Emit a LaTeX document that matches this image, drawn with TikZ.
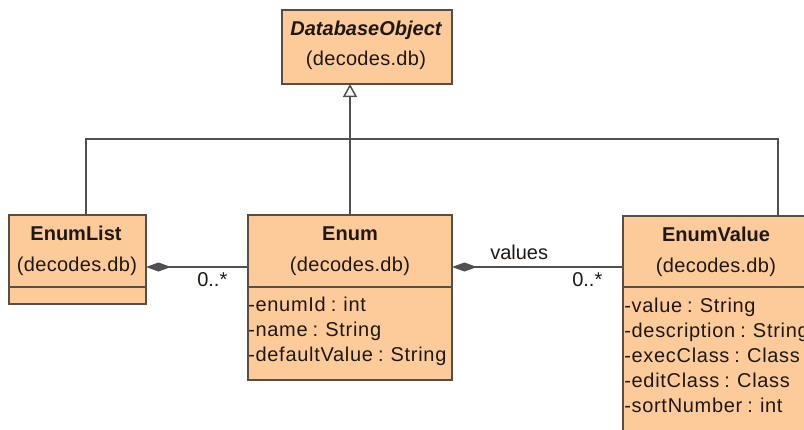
\documentclass[tikz,border=0pt]{standalone}
\usepackage{fontspec}
\setmainfont{Liberation Sans}
\newfontfamily\attrfont[LetterSpace=3.5,WordSpace=0.8]{Liberation Sans}
\newfontfamily\pkgfont[LetterSpace=1.5]{Liberation Sans}
\usetikzlibrary{arrows.meta}
\definecolor{classfill}{RGB}{253,203,153}
\definecolor{classedge}{RGB}{88,78,70}
\definecolor{wire}{RGB}{80,80,80}
\definecolor{ink}{RGB}{30,24,20}
\begin{document}
\begin{tikzpicture}[x=0.75pt,y=-0.75pt,
  classbox/.style={draw=classedge,fill=classfill,line width=1.1pt,
    inner sep=0pt,outer sep=0pt,anchor=north west},
  uml/.style={font=\fontsize{15}{18}\selectfont,text=ink,inner sep=0pt},
  title/.style={uml,anchor=base,font=\fontsize{15}{18}\selectfont\bfseries},
  pkg/.style={uml,anchor=base,font=\fontsize{15}{18}\pkgfont},
  attr/.style={uml,anchor=base west,font=\fontsize{15}{18}\attrfont},
  mult/.style={uml,anchor=base west},
  wireline/.style={draw=wire,line width=1.1pt},
  gen/.style={wireline,-{Triangle[open,length=9.75pt,width=10.5pt,fill=white]}},
  comp/.style={wireline,{Diamond[length=18.75pt,width=6.75pt,fill=wire]}-}]
\fill[white] (0,0) rectangle (804,429);
\clip (0,0) rectangle (804,429);

% class boxes
\node[classbox,minimum width=127.5pt,minimum height=55.5pt] (dbo) at (282,10) {};
\node[classbox,minimum width=102.75pt,minimum height=66.75pt] (elist) at (9,215) {};
\node[classbox,minimum width=153pt,minimum height=123.75pt] (enum) at (248,215) {};
\node[classbox,minimum width=150pt,minimum height=172.5pt] (ev) at (623,216) {};

% compartment separators
\draw[draw=classedge,line width=1.1pt] (elist.west |- 0,287) -- (elist.east |- 0,287);
\draw[draw=classedge,line width=1.1pt] (enum.west |- 0,287) -- (enum.east |- 0,287);
\draw[draw=classedge,line width=1.1pt] (ev.west |- 0,287) -- (ev.east |- 0,287);

% DatabaseObject
\node[uml,anchor=base,font=\fontsize{15}{18}\selectfont\bfseries\itshape] (dboT) at (366,35) {DatabaseObject};
\node[pkg] (dboP) at (366,65) {(decodes.db)};

% EnumList
\node[title] (elT) at (76,240) {EnumList};
\node[pkg] (elP) at (77,271) {(decodes.db)};

% Enum
\node[title] (enT) at (350,240) {Enum};
\node[pkg] (enP) at (350,271) {(decodes.db)};
\node[attr] (enA1) at (248,311) {-enumId : int};
\node[attr] (enA2) at (248,336) {-name : String};
\node[attr] (enA3) at (248,361) {-defaultValue : String};

% EnumValue
\node[title] (evT) at (716,241) {EnumValue};
\node[pkg] (evP) at (716,272) {(decodes.db)};
\node[attr] (evA1) at (624,312) {-value : String};
\node[attr] (evA2) at (624,337) {-description : String};
\node[attr] (evA3) at (624,362) {-execClass : Class};
\node[attr] (evA4) at (624,387) {-editClass : Class};
\node[attr] (evA5) at (624,412) {-sortNumber : int};

% generalization to DatabaseObject
\coordinate (busL) at (86,139);
\coordinate (busR) at (778,139);
\draw[wireline] (elist.north -| busL) -- (busL) -- (busR) -- (ev.north -| busR);
\draw[gen] (enum.north) -- (enum.north |- dbo.south);

% compositions
\coordinate (row) at (0,267);
\draw[comp] (elist.east |- row) -- (enum.west |- row);
\draw[comp] (enum.east |- row) -- (ev.west |- row);

% association labels
\node[mult] (m1) at (197,286) {0..*};
\node[mult] (m2) at (572,286) {0..*};
\node[mult] (rv) at (490,259) {values};
\end{tikzpicture}
\end{document}
